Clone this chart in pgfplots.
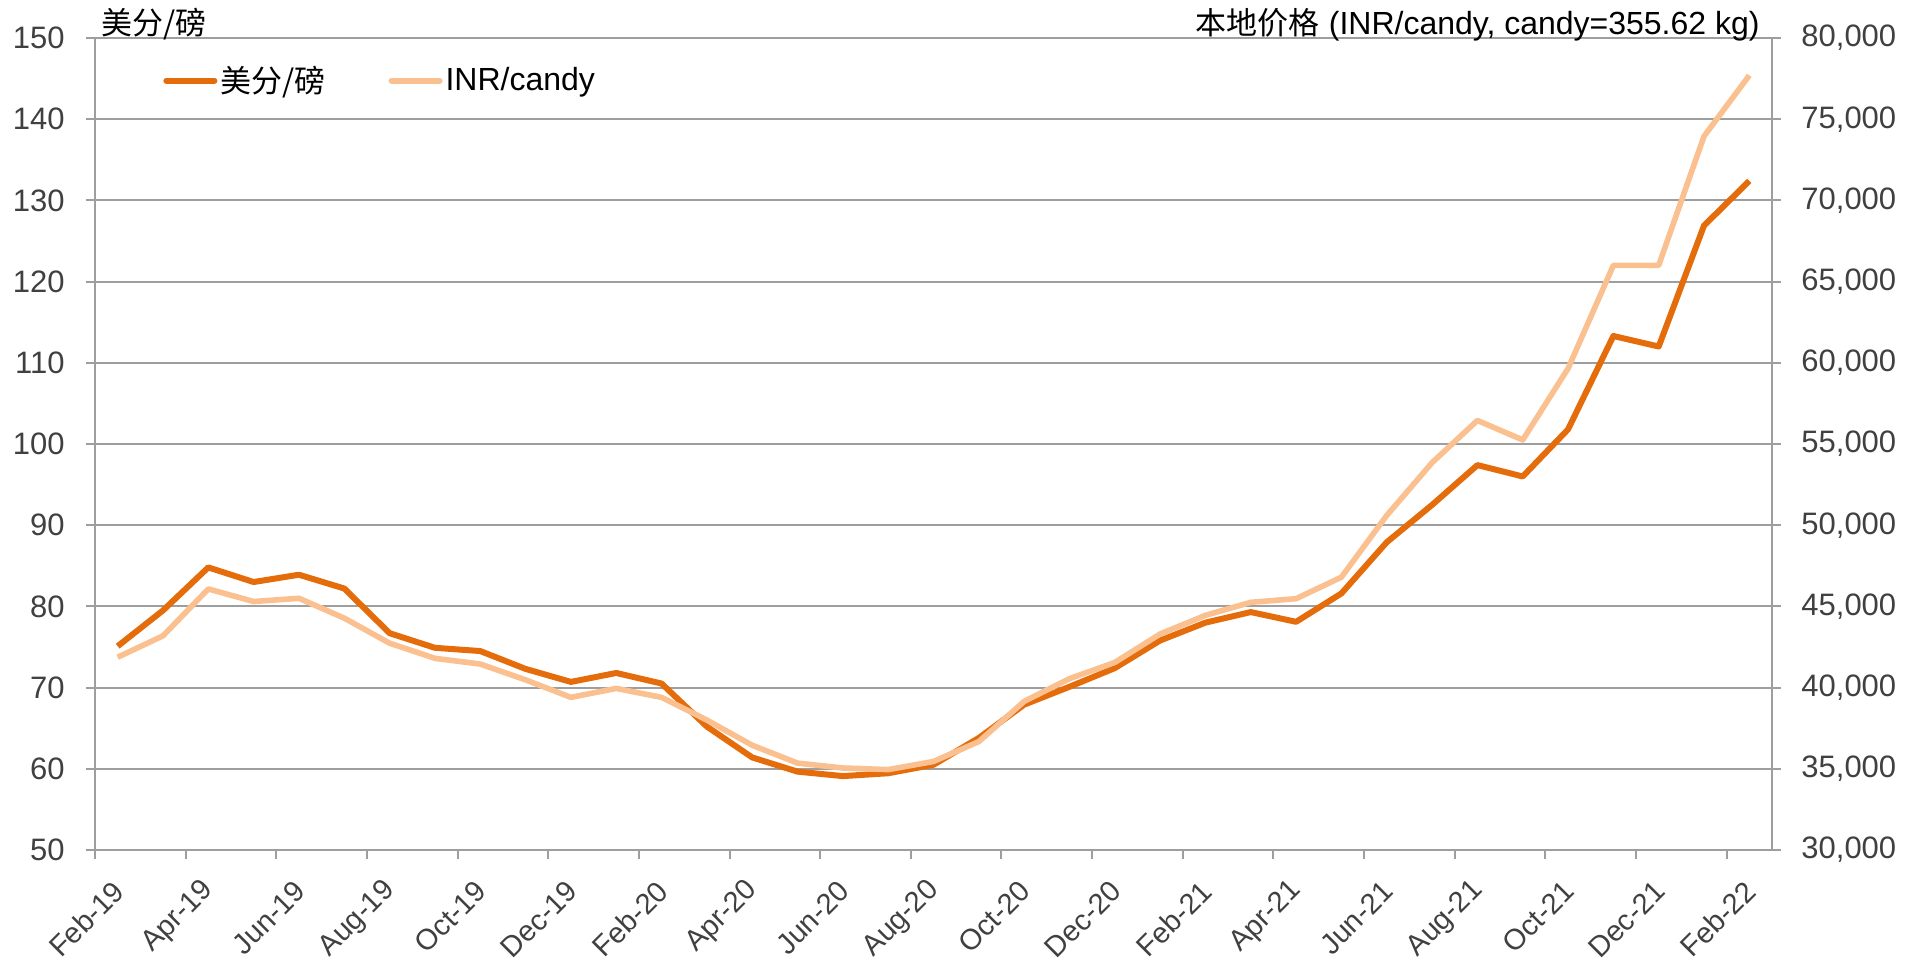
\documentclass[border=0pt]{standalone}
\usepackage{pgfplots}
\usepackage{pgfplotstable}
\pgfplotsset{compat=1.18}
\usepackage{fontspec}
\setmainfont{Liberation Sans}
\newfontfamily\cjk{Noto Sans CJK SC}
\definecolor{darkor}{HTML}{E46C0A}
\definecolor{lightor}{HTML}{FAC08F}
\definecolor{gridc}{HTML}{9E9E9E}
\definecolor{tickc}{HTML}{404040}

\pgfplotstableread{
x usc inr
0.5 75.1 41870
1.5 79.5 43185
2.5 84.8 46075
3.5 83.0 45300
4.5 83.9 45500
5.5 82.2 44275
6.5 76.7 42735
7.5 74.9 41800
8.5 74.5 41450
9.5 72.3 40475
10.5 70.7 39400
11.5 71.8 39950
12.5 70.5 39400
13.5 65.2 38000
14.5 61.4 36450
15.5 59.65 35350
16.5 59.1 35050
17.5 59.45 34950
18.5 60.5 35450
19.5 63.8 36675
20.5 67.9 39150
21.5 70.1 40550
22.5 72.4 41550
23.5 75.8 43300
24.5 78.0 44450
25.5 79.3 45250
26.5 78.1 45475
27.5 81.6 46800
28.5 87.9 50600
29.5 92.5 53850
30.5 97.4 56450
31.5 96.0 55250
32.5 101.8 59650
33.5 113.3 66000
34.5 112.0 66000
35.5 126.9 73950
36.5 132.4 77700
}\data

\begin{document}
\begin{tikzpicture}
\pgfplotsset{
 base/.style={
  scale only axis, width=838.5pt, height=406pt,
  xmin=0, xmax=37, clip=false,
  axis line style={gridc, line width=1pt},
  tick style={gridc, line width=1pt},
  major tick length=4.5pt, tick align=outside,
  ticklabel style={font=\fontsize{15.5}{19}\selectfont, text=tickc},
  /pgf/number format/assume math mode=true,
 }
}
\begin{axis}[base,
 axis x line*=bottom, axis y line*=left,
 ymin=50, ymax=150, ytick={50,60,...,150},
 ymajorgrids, grid style={gridc, line width=1pt},
 xtick={0,2,...,36},
 xticklabels={Feb-19,Apr-19,Jun-19,Aug-19,Oct-19,Dec-19,Feb-20,Apr-20,Jun-20,Aug-20,Oct-20,Dec-20,Feb-21,Apr-21,Jun-21,Aug-21,Oct-21,Dec-21,Feb-22},
 xticklabel style={font=\fontsize{14.5}{17}\selectfont, inner sep=0pt, xshift=12pt, yshift=-13.5pt, rotate=45, anchor=east},
 yticklabel style={inner sep=0pt, xshift=-10.5pt},
 legend image code/.code={\draw[#1, line cap=round] (0pt,0pt) -- (24pt,0pt);},
 legend style={draw=none, fill=none, legend columns=2, at={(axis description cs:0,1)}, anchor=west, xshift=31pt, yshift=-21.3pt,
   font=\fontsize{16}{19}\selectfont, nodes={inner sep=1.5pt},
   /tikz/every even column/.append style={column sep=30pt}},
]
\addplot[darkor, line width=3pt, line join=round] table[x=x,y=usc]{\data};
\addlegendentry{{\cjk\fontsize{15.5}{19}\selectfont 美分/磅}}
\addlegendimage{lightor, line width=3pt}
\addlegendentry{INR/candy}
\node[anchor=base west, font=\fontsize{15.5}{19}\selectfont\cjk, inner sep=0pt, xshift=3pt, yshift=1.5pt] at (rel axis cs:0,1) {美分/磅};
\end{axis}
\begin{axis}[base, axis x line=none, axis y line*=right,
 ymin=30000, ymax=80000, ytick={30000,35000,...,80000},
 scaled y ticks=false,
 yticklabel style={inner sep=0pt, xshift=10pt, /pgf/number format/.cd, 1000 sep={,}},
]
\addplot[lightor, line width=2.8pt, line join=round] table[x=x,y=inr]{\data};
\node[anchor=base east, font=\fontsize{16}{19}\selectfont, inner sep=0pt, xshift=-6pt, yshift=1.5pt] at (rel axis cs:1,1) {{\cjk\fontsize{15.5}{19}\selectfont 本地价格} (INR/candy, candy=355.62 kg)};
\end{axis}
\pgfresetboundingbox
\path[use as bounding box] (-47.5pt,-61pt) rectangle (910pt,425pt);
\end{tikzpicture}
\end{document}
